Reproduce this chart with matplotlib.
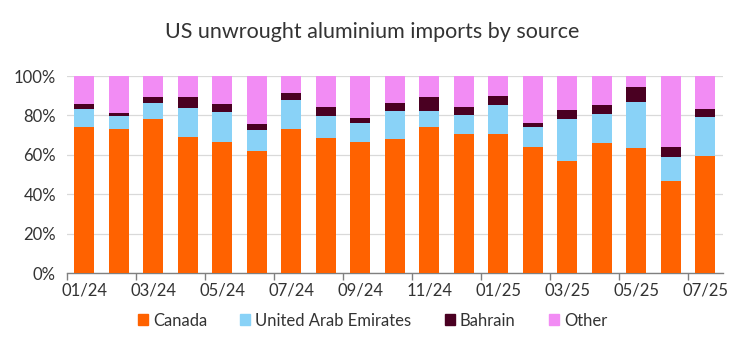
import numpy as np
import matplotlib.pyplot as plt
from matplotlib.patches import Patch

months = ['01/24', '02/24', '03/24', '04/24', '05/24', '06/24', '07/24', '08/24',
          '09/24', '10/24', '11/24', '12/24', '01/25', '02/25', '03/25', '04/25',
          '05/25', '06/25', '07/25']

# shares of imports, %
canada = [74.2, 73.1, 78.3, 69.2, 66.6, 62.0, 73.2, 68.6, 66.6, 68.1,
          74.2, 70.7, 70.7, 64.1, 56.9, 66.1, 63.6, 46.8, 59.5]
uae = [9.0, 6.6, 8.1, 14.7, 15.3, 10.5, 14.8, 11.2, 9.7, 14.3,
       8.2, 9.6, 14.7, 10.1, 21.4, 14.7, 23.2, 12.2, 19.7]
bahrain = [2.7, 1.5, 2.9, 5.4, 4.0, 3.3, 3.5, 4.6, 2.5, 4.0,
           6.9, 4.1, 4.6, 1.7, 4.4, 4.6, 7.8, 5.1, 4.0]
other = [100 - a - b - c for a, b, c in zip(canada, uae, bahrain)]

series = [('Canada', canada, '#FF6200'),
          ('United Arab Emirates', uae, '#89D2F7'),
          ('Bahrain', bahrain, '#4A0022'),
          ('Other', other, '#F28CF4')]

plt.rcParams['font.family'] = ['Lato', 'DejaVu Sans']

fig = plt.figure(figsize=(7.45, 3.41), dpi=100)
ax = fig.add_axes([0.090, 0.1994, 0.880, 0.5777])

x = np.arange(len(months))
bottom = np.zeros(len(months))
for name, vals, col in series:
    ax.bar(x, vals, width=0.58, bottom=bottom, color=col, zorder=3, label=name)
    bottom += np.array(vals)

ax.set_xlim(-0.5, len(months) - 0.5)
ax.set_ylim(0, 100)
ax.set_yticks(range(0, 101, 20))
ax.set_yticklabels([f'{v}%' for v in range(0, 101, 20)])
ax.yaxis.grid(True, color='#D9D9D9', linewidth=0.9, zorder=0)
ax.tick_params(axis='y', length=0, pad=8, labelsize=12, labelcolor='#333333')

# labels every second month, tick marks between categories
ax.set_xticks(x[::2])
ax.set_xticklabels(months[::2])
ax.set_xticks(np.arange(-0.5, len(months) - 1, 2), minor=True)
ax.tick_params(axis='x', which='major', length=0, pad=7, labelsize=12, labelcolor='#333333')
ax.tick_params(axis='x', which='minor', length=5, color='#808080', width=1)

for s in ['left', 'right', 'top']:
    ax.spines[s].set_visible(False)
ax.spines['bottom'].set_color('#808080')
ax.spines['bottom'].set_linewidth(1)

fig.text(0.5, 0.905, 'US unwrought aluminium imports by source', ha='center',
         va='center', fontsize=15.5, color='#333333')

handles = [Patch(color=c, label=n) for n, _, c in series]
fig.legend(handles=handles, loc='center', bbox_to_anchor=(0.5, 0.06), ncol=4,
           frameon=False, fontsize=12, handlelength=0.6, handleheight=0.6,
           handletextpad=0.3, columnspacing=2.0, labelcolor='#333333')

fig.savefig('out.png', dpi=100)
